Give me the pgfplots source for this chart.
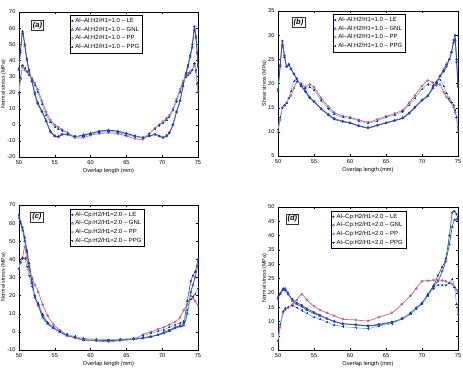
\documentclass[border=0pt]{standalone}
\usepackage{fontspec}
\setmainfont{Liberation Sans}
\usepackage{pgfplots}
\usepackage{pgfplotstable}
\pgfplotsset{compat=1.18}

\definecolor{mkblue}{RGB}{40,50,205}
\definecolor{mkpurple}{RGB}{135,80,205}
\definecolor{lnteal}{RGB}{40,110,100}
\definecolor{lnblue}{RGB}{60,75,205}
\definecolor{lnred}{RGB}{225,95,95}
\definecolor{lncyan}{RGB}{95,200,205}

% Panel (a): normal stress, Al-Al, H2/H1 = 1.0
\pgfplotstableread{
x     le    gnl   pp    ppg
50.0  35    34    19    20
50.2  46    45    28    29
50.5  58    57    36    37
50.8  50    49    34    35
51.1  41    40    33    33
51.4  34    33    31.5  31
51.8  27    27    29    28
52.2  19    20    26    24.5
52.6  13    14    22    20.5
53.2  8     8.5   15    13
53.8  2     2.5   8     6
54.4  -4.5  -4    3     1.5
55.0  -7    -6.8  0     -1.5
55.5  -7.5  -7.3  -1.5  -2.5
56.0  -6    -6    -3    -3.5
56.8  -6    -6    -5    -5
57.8  -7.5  -7.3  -8    -7
59.0  -6.5  -6.3  -8    -7
60.0  -5.5  -5.3  -6.5  -5.8
61.2  -4.2  -4    -5.5  -4.8
62.5  -3.5  -3.3  -5    -4.2
63.8  -4.2  -4    -5.5  -4.8
65.0  -5.5  -5.3  -7    -6.2
66.2  -7    -6.8  -8.5  -7.3
67.3  -8    -7.8  -9    -8
68.2  -7    -6.8  -5.5  -5.5
69.0  -6    -6    -2    -2.5
69.6  -7    -7    0     -0.5
70.1  -8    -7.8  2     1
70.6  -7    -6.8  4     3
71.0  -5    -4.8  6     5
71.5  0     0     10    9
72.0  8     8     16    14.5
72.5  15    15    22    20.5
72.9  24    24    27    26
73.3  32    31    30    29.5
73.6  37    36    32    31
73.9  43    42    33    32
74.2  50    48    34    34
74.5  61    59    37    38
74.7  55    54    33    34
74.9  45    44    25    26
75.0  37    36    20    20
}\tabA

% Panel (b): shear stress, Al-Al, H2/H1 = 1.0
\pgfplotstableread{
x     le    gnl   pp    ppg
50.0  18.8  18.5  10    10.5
50.3  23.8  23.5  12.5  13
50.6  28.8  28    15    15
50.9  25.8  25.5  15.5  15.5
51.2  23.5  23.5  16    16
51.5  24    23.8  17    17
51.8  23    23    17.5  18.5
52.2  22    22    19    20.5
52.6  21    21    20.3  20.5
53.2  19.5  19.5  20    19.8
53.8  18.3  18.5  19.3  19
54.4  17    17.2  19.8  19.2
55.0  16.2  16.3  19.2  18.7
56.0  14.7  14.8  17    16.5
57.0  13.5  13.6  15.2  14.8
57.8  12.6  12.8  14    13.7
59.0  12.1  12.2  13.3  13
60.0  11.8  11.9  13    12.8
61.2  11.2  11.3  12.5  12.3
62.5  10.8  10.9  12    11.8
63.8  11.3  11.4  12.6  12.3
65.0  11.8  11.9  13.2  13
66.2  12.3  12.4  13.8  13.5
67.3  12.8  12.9  14.5  14.2
68.2  13.8  13.9  16    15.6
69.0  15    15.1  17.5  17
70.0  16.5  16.6  19.5  18.8
70.8  17.4  17.5  20.6  19.8
71.5  19    19.2  20.2  19.6
72.0  20.2  20.3  19.6  20
72.5  21.5  21.6  19.8  20.8
73.0  22.5  22.8  18.2  19.5
73.4  23.5  24    17.2  18
73.8  25    25    16.5  17
74.1  26.5  26.5  16    16.2
74.4  29    28.5  15    15.5
74.6  30    29    14    14.5
74.8  25    24.5  13    13
75.0  19.5  19.3  10    11
}\tabB

% Panel (c): normal stress, Al-Cp, H2/H1 = 2.0
\pgfplotstableread{
x     le    gnl   pp    ppg
50.0  64.5  63    34.5  35
50.2  61    60    38    38.5
50.5  57.5  56    41    40.5
50.8  52    50    47    40.5
51.1  45    44    40    36
51.4  38    36    34    31
51.8  29    27    30    25
52.2  20    19    26    19.5
52.7  15    14.5  22    16
53.3  9     8     15    10
54.0  5     4.5   9     5.5
54.8  2.5   2     4     2.5
55.7  0     0     1     0.5
56.7  -2    -2    -1.5  -1.5
57.8  -3.2  -3    -3    -2.5
59.0  -4.5  -4.3  -4.5  -3.5
60.8  -4.8  -4.5  -5    -4
62.5  -5    -4.8  -5.5  -4.3
64.1  -4.5  -4.3  -4.8  -4
66.0  -4.2  -4    -4    -3.5
67.3  -3.5  -3.2  -1.5  -2
68.4  -2.8  -2.5  0     -0.8
69.4  -1.5  -1.8  1.5   0.3
70.2  -0.3  -0.8  2.5   1.2
71.0  1     0.5   4     2.5
71.8  2.5   2     5.5   4
72.5  3.5   3     8     5
73.0  5     3.5   12    6
73.5  17    10    15    12
74.0  28    22    20    18
74.3  31    26    18.5  19.5
74.6  33    30    17    21
75.0  40    37    14.5  24
}\tabC

% Panel (d): normal stress, Al-Cp, H2/H1 = 2.0
\pgfplotstableread{
x     le    gnl   pp    ppg
50.0  18    18.5  3     3.5
50.3  19.8  19.5  8     9
50.7  21.5  21    13    13.5
51.0  20.8  21.5  14    14.5
51.4  19.5  20    14.8  15
52.0  17.8  17.2  16    15.5
52.6  16.5  16    17.5  14.8
53.3  15.7  15.2  19.5  13.8
54.0  14.5  14    17.5  12.8
55.0  13.2  12.8  15.3  11.5
55.8  12.2  12    14    10.8
56.8  11    11    13    9.8
57.8  10    10    12    8.8
59.0  9.2   9.2   10.8  8.2
60.8  8.9   8.8   10.5  7.8
62.5  8.5   8.4   10.2  7.5
64.0  9     8.8   11.5  8.4
65.8  9.8   9.6   13    9.2
67.2  11    10.8  16    11
68.4  13    12.6  19    12.8
69.2  14.8  14.5  21.5  14.5
70.0  16.5  16.3  24    16
70.8  19.5  19    24.2  19
71.6  22.5  22.3  24.5  21.5
72.2  26    24    24.5  22.7
72.8  29    27.5  24.3  22.7
73.3  32    31    24    22.8
73.8  40    37    23.5  23.5
74.2  48    43    23    24.7
74.5  48.5  45.5  22    22
74.8  47.5  45.5  21    16
75.0  46    46    20    12.5
}\tabD

\tikzset{
  tag/.style={draw=black!80, fill=white, line width=0.6pt, inner sep=1.6pt,
    font=\fontsize{7.5}{8}\selectfont\bfseries\itshape},
}

\pgfplotsset{
  panel/.style={
    scale only axis,
    xmin=50, xmax=75, xtick={50,55,...,75},
    tick align=inside, major tick length=2pt,
    tick style={black, line width=0.3pt},
    axis line style={line width=0.4pt},
    font=\fontsize{5.6}{6.5}\selectfont,
    /pgf/number format/assume math mode=true,
    xlabel={Overlap length (mm)},
    xlabel style={yshift=3pt},
    ylabel style={yshift=-5.5pt, font=\fontsize{5.3}{6}\selectfont},
    legend cell align=left,
    legend style={draw=black, line width=0.4pt, fill=white,
      font=\fontsize{6}{6.4}\selectfont, inner sep=1pt,
      row sep=-1.2pt, anchor=north west},
    legend image code/.code={\draw[##1, only marks] plot coordinates {(0.12cm,0cm)};},
    every axis plot/.append style={line width=0.7pt, smooth, tension=0.45},
  },
  le/.style={color=lnteal, mark=*, mark size=0.75pt,
    mark options={draw=mkblue, fill=mkblue, solid}},
  gnl/.style={color=lnblue, mark=triangle, mark size=1.3pt,
    mark options={draw=mkblue, solid, line width=0.4pt}},
  pp/.style={color=lnred, mark=o, mark size=1.1pt,
    mark options={draw=mkpurple, solid, line width=0.4pt}},
  ppg/.style={color=lncyan, mark=+, mark size=1.1pt,
    mark options={draw=mkblue, solid, line width=0.4pt}},
}

\begin{document}
\begin{tikzpicture}
\useasboundingbox (0,0) rectangle (463pt,376pt);

% (a)
\begin{axis}[panel, at={(19pt,219pt)}, anchor=south west,
  width=179pt, height=145pt,
  ymin=-20, ymax=70, ytick={-20,-10,...,70},
  ylabel={Normal stress (MPa)},
  legend style={at={(rel axis cs:0.285,0.98)}}]
\addplot[le]  table[x=x,y=le]  {\tabA};
\addplot[gnl] table[x=x,y=gnl] {\tabA};
\addplot[pp]  table[x=x,y=pp]  {\tabA};
\addplot[ppg] table[x=x,y=ppg] {\tabA};
\legend{Al–Al:H2/H1=1.0 – LE, Al–Al:H2/H1=1.0 – GNL, Al–Al:H2/H1=1.0 – PP, Al–Al:H2/H1=1.0 – PPG}
\node[tag] at (rel axis cs:0.103,0.907) {(a)};
\end{axis}

% (b)
\begin{axis}[panel, at={(278pt,220pt)}, anchor=south west,
  width=180pt, height=145pt,
  ymin=5, ymax=35, ytick={5,10,...,35},
  ylabel={Shear stress (MPa)},
  legend style={at={(rel axis cs:0.305,0.98)}}]
\addplot[le]  table[x=x,y=le]  {\tabB};
\addplot[gnl] table[x=x,y=gnl] {\tabB};
\addplot[pp]  table[x=x,y=pp]  {\tabB};
\addplot[ppg] table[x=x,y=ppg] {\tabB};
\legend{Al–Al:H2/H1=1.0 – LE, Al–Al:H2/H1=1.0 – GNL, Al–Al:H2/H1=1.0 – PP, Al–Al:H2/H1=1.0 – PPG}
\node[tag] at (rel axis cs:0.114,0.92) {(b)};
\end{axis}

% (c)
\begin{axis}[panel, at={(19pt,26pt)}, anchor=south west,
  width=179pt, height=145pt,
  ymin=-10, ymax=70, ytick={-10,0,...,70},
  ylabel={Normal stress (MPa)},
  legend style={at={(rel axis cs:0.285,0.975)}}]
\addplot[le]  table[x=x,y=le]  {\tabC};
\addplot[gnl] table[x=x,y=gnl] {\tabC};
\addplot[pp]  table[x=x,y=pp]  {\tabC};
\addplot[ppg] table[x=x,y=ppg] {\tabC};
\legend{Al–Cp:H2/H1=2.0 – LE, Al–Cp:H2/H1=2.0 – GNL, Al–Cp:H2/H1=2.0 – PP, Al–Cp:H2/H1=2.0 – PPG}
\node[tag] at (rel axis cs:0.1,0.917) {(c)};
\end{axis}

% (d)
\begin{axis}[panel, at={(278pt,26pt)}, anchor=south west,
  width=180pt, height=143pt,
  ymin=0, ymax=50, ytick={0,5,...,50},
  ylabel={Normal stress (MPa)},
  legend style={at={(rel axis cs:0.295,0.975)}}]
\addplot[le]  table[x=x,y=le]  {\tabD};
\addplot[gnl] table[x=x,y=gnl] {\tabD};
\addplot[pp]  table[x=x,y=pp]  {\tabD};
\addplot[ppg] table[x=x,y=ppg] {\tabD};
\legend{Al–Cp:H2/H1=2.0 – LE, Al–Cp:H2/H1=2.0 – GNL, Al–Cp:H2/H1=2.0 – PP, Al–Cp:H2/H1=2.0 – PPG}
\node[tag] at (rel axis cs:0.08,0.916) {(d)};
\end{axis}
\end{tikzpicture}
\end{document}
